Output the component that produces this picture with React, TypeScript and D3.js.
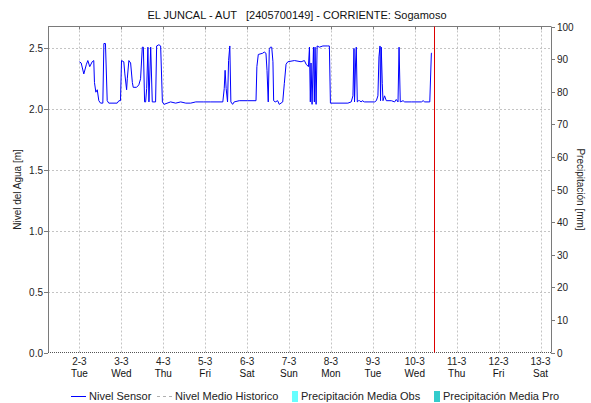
import React from "react";
import * as d3 from "d3";

const title = "EL JUNCAL - AUT   [2405700149] - CORRIENTE: Sogamoso";
const leftAxisLabel = "Nivel del Agua [m]";
const rightAxisLabel = "Precipitación [mm]";
const levelTicks = [0, 0.5, 1.0, 1.5, 2.0, 2.5];
const rainTicks = [0, 10, 20, 30, 40, 50, 60, 70, 80, 90, 100];
const dayLabels = ["2-3", "3-3", "4-3", "5-3", "6-3", "7-3", "8-3", "9-3", "10-3", "11-3", "12-3", "13-3"];
const weekdayLabels = ["Tue", "Wed", "Thu", "Fri", "Sat", "Sun", "Mon", "Tue", "Wed", "Thu", "Fri", "Sat"];
const legendLabels = ["Nivel Sensor", "Nivel Medio Historico", "Precipitación Media Obs", "Precipitación Media Pro"];

// hours since 2021-03-02 00:00
const sensorHours = [
  0, 1, 2.5, 4.0, 4.8, 5.9, 7.3, 8.2, 8.6, 9.4, 10.2, 11.1, 12.1, 13.4, 14.0, 14.9, 15.9, 16.8, 21.6, 22.6,
  23.5, 24.1, 25.4, 26.0, 27.0, 27.4, 28.3, 29.3, 30.3, 30.8, 32.7, 34.0, 35.0, 36.0, 36.6, 37.3, 37.9, 38.5, 39.2, 39.8,
  40.8, 41.7, 43.6, 44.2, 45.5, 46.5, 47.5, 48.4, 52.2, 55.1, 58.0, 60.9, 63.7, 66.6, 71.2, 75.2, 82.1, 82.9, 83.4, 84.0,
  84.8, 85.4, 86.1, 86.7, 87.7, 88.6, 91.5, 96.3, 101.1, 101.6, 102.4, 104.9, 105.8, 106.8, 107.4, 108.1, 108.7, 109.3, 110.1, 110.8,
  111.2, 112.1, 113.5, 114.4, 116.4, 117.3, 118.3, 119.3, 123.1, 126.9, 128.8, 129.8, 131.1, 131.7, 132.2, 132.6, 133.2, 134.0, 134.5, 134.9,
  135.5, 136.1, 137.4, 139.4, 142.2, 143.1, 143.7, 153.7, 155.6, 156.6, 157.2, 157.5, 158.1, 158.5, 159.1, 159.8, 160.4, 161.3, 161.9, 163.2,
  169.0, 170.0, 170.9, 171.5, 172.1, 172.4, 172.8, 173.4, 173.8, 174.7, 175.7, 178.6, 180.5, 181.4, 182.4, 183.0, 183.7, 185.3, 186.2, 190.0,
  195.8, 196.8, 197.7, 200.6, 201.0, 201.5, 201.9,
];
const sensorLevels = [
  2.39, 2.38, 2.29, 2.37, 2.40, 2.35, 2.39, 2.40, 2.22, 2.14, 2.16, 2.07, 2.05, 2.05, 2.54, 2.54, 2.07, 2.05, 2.05, 2.07,
  2.07, 2.40, 2.39, 2.29, 2.16, 2.25, 2.40, 2.38, 2.22, 2.18, 2.18, 2.20, 2.25, 2.51, 2.51, 2.06, 2.06, 2.17, 2.51, 2.06,
  2.51, 2.06, 2.06, 2.52, 2.53, 2.52, 2.06, 2.04, 2.06, 2.05, 2.06, 2.05, 2.05, 2.06, 2.06, 2.06, 2.06, 2.17, 2.32, 2.17,
  2.06, 2.40, 2.52, 2.06, 2.04, 2.06, 2.07, 2.07, 2.07, 2.35, 2.45, 2.46, 2.47, 2.46, 2.32, 2.06, 2.49, 2.51, 2.51, 2.39,
  2.07, 2.06, 2.07, 2.04, 2.06, 2.21, 2.37, 2.39, 2.40, 2.39, 2.40, 2.37, 2.35, 2.51, 2.06, 2.38, 2.04, 2.51, 2.06, 2.51,
  2.04, 2.52, 2.51, 2.52, 2.52, 2.52, 2.05, 2.05, 2.06, 2.11, 2.50, 2.06, 2.38, 2.51, 2.06, 2.07, 2.07, 2.06, 2.07, 2.06,
  2.06, 2.07, 2.11, 2.43, 2.52, 2.07, 2.51, 2.21, 2.07, 2.11, 2.07, 2.07, 2.06, 2.08, 2.06, 2.51, 2.06, 2.07, 2.06, 2.06,
  2.06, 2.07, 2.06, 2.06, 2.24, 2.46, 2.46,
];
const nowHour = 203; // current-time marker, hours since 2021-03-02 00:00

const W = 591;
const H = 403;
const M = { left: 48, right: 551, top: 26.5, bottom: 352.5 };
const FONT = "'Liberation Sans', Arial, sans-serif";

export default function App() {
  const base = new Date(2021, 2, 2, 0, 0, 0);
  const toDate = (h: number) => new Date(base.getTime() + h * 3600 * 1000);
  const x = d3.scaleTime().domain([new Date(2021, 2, 1, 6), new Date(2021, 2, 13, 6)]).range([M.left, M.right]);
  const yL = d3.scaleLinear().domain([0, 2.68]).range([M.bottom, M.top]);
  const yR = d3.scaleLinear().domain([0, 100]).range([M.bottom, M.top]);
  const days = dayLabels.map((_, i) => new Date(2021, 2, 2 + i));

  const pts: [number, number][] = sensorHours.map((h, i) => [h, sensorLevels[i]]);
  const line = d3
    .line<[number, number]>()
    .x((d) => x(toDate(d[0])))
    .y((d) => yL(d[1]));

  const xNow = x(toDate(nowHour));
  const gridColor = "#c4c4c4";
  const axisColor = "#7a7a7a";

  return (
    <div style={{ position: "absolute", left: 0, top: 0 }}>
      <svg width={W} height={H} style={{ display: "block", fontFamily: FONT }}>
        <rect x={0} y={0} width={W} height={H} fill="#ffffff" />
        <text x={297} y={19} textAnchor="middle" fontSize={11} fill="#111" style={{ whiteSpace: "pre" }}>
          {title}
        </text>

        {/* grid */}
        {levelTicks.filter((t) => t > 0).map((t) => (
          <line key={"hg" + t} x1={M.left} x2={M.right} y1={Math.round(yL(t)) + 0.5} y2={Math.round(yL(t)) + 0.5}
            stroke={gridColor} strokeDasharray="2,2" />
        ))}
        {days.map((d, i) => (
          <line key={"vg" + i} x1={Math.round(x(d)) + 0.5} x2={Math.round(x(d)) + 0.5} y1={M.top} y2={M.bottom}
            stroke={gridColor} strokeDasharray="2,2" />
        ))}

        {/* frame */}
        <line x1={M.left} x2={M.right} y1={M.top} y2={M.top} stroke={axisColor} />
        <line x1={M.left + 0.5} x2={M.left + 0.5} y1={M.top} y2={M.bottom} stroke={axisColor} />
        <line x1={M.right + 0.5} x2={M.right + 0.5} y1={M.top} y2={M.bottom} stroke={axisColor} />
        <line x1={M.left} x2={M.right} y1={M.bottom} y2={M.bottom} stroke="#555" strokeDasharray="1,1" />
        {days.map((d, i) => (
          <line key={"tt" + i} x1={Math.round(x(d)) + 0.5} x2={Math.round(x(d)) + 0.5} y1={M.top} y2={M.top + 3} stroke={axisColor} />
        ))}

        {/* left axis */}
        {levelTicks.map((t) => (
          <g key={"lt" + t}>
            <line x1={M.left - 4} x2={M.left} y1={Math.round(yL(t)) + 0.5} y2={Math.round(yL(t)) + 0.5} stroke={axisColor} />
            <text x={M.left - 5} y={yL(t) + 4} textAnchor="end" fontSize={10} fill="#222">
              {t.toFixed(1)}
            </text>
          </g>
        ))}
        <text transform={`translate(21,${(M.top + M.bottom) / 2}) rotate(-90)`} textAnchor="middle" fontSize={10} fill="#222">
          {leftAxisLabel}
        </text>

        {/* right axis */}
        {rainTicks.map((t) => (
          <g key={"rt" + t}>
            <line x1={M.right} x2={M.right + 4} y1={Math.round(yR(t)) + 0.5} y2={Math.round(yR(t)) + 0.5} stroke={axisColor} />
            <text x={M.right + 6} y={yR(t) + 4} textAnchor="start" fontSize={10} fill="#222">
              {t}
            </text>
          </g>
        ))}
        <text transform={`translate(577,${(M.top + M.bottom) / 2}) rotate(90)`} textAnchor="middle" fontSize={10} fill="#222">
          {rightAxisLabel}
        </text>

        {/* x labels */}
        {days.map((d, i) => (
          <g key={"xl" + i}>
            <text x={x(d)} y={365} textAnchor="middle" fontSize={10} fill="#222">
              {dayLabels[i]}
            </text>
            <text x={x(d)} y={377} textAnchor="middle" fontSize={10} fill="#111">
              {weekdayLabels[i]}
            </text>
          </g>
        ))}

        {/* sensor line */}
        <path d={line(pts) || ""} fill="none" stroke="#0000ff" strokeWidth={1} />

        {/* now marker */}
        <line x1={Math.round(xNow) + 0.5} x2={Math.round(xNow) + 0.5} y1={M.top} y2={M.bottom} stroke="#dd0000" />

        {/* legend */}
        <g fontSize={11} fill="#222">
          <line x1={71} x2={86} y1={396.5} y2={396.5} stroke="#0000ff" />
          <text x={89} y={400}>{legendLabels[0]}</text>
          <line x1={157} x2={172} y1={396.5} y2={396.5} stroke="#b0b0b0" strokeDasharray="3,3" />
          <text x={175} y={400}>{legendLabels[1]}</text>
          <rect x={292} y={391} width={6} height={11} fill="#66ffff" />
          <text x={301} y={400}>{legendLabels[2]}</text>
          <rect x={434} y={391} width={6} height={11} fill="#33cccc" />
          <text x={443} y={400}>{legendLabels[3]}</text>
        </g>
      </svg>
    </div>
  );
}
